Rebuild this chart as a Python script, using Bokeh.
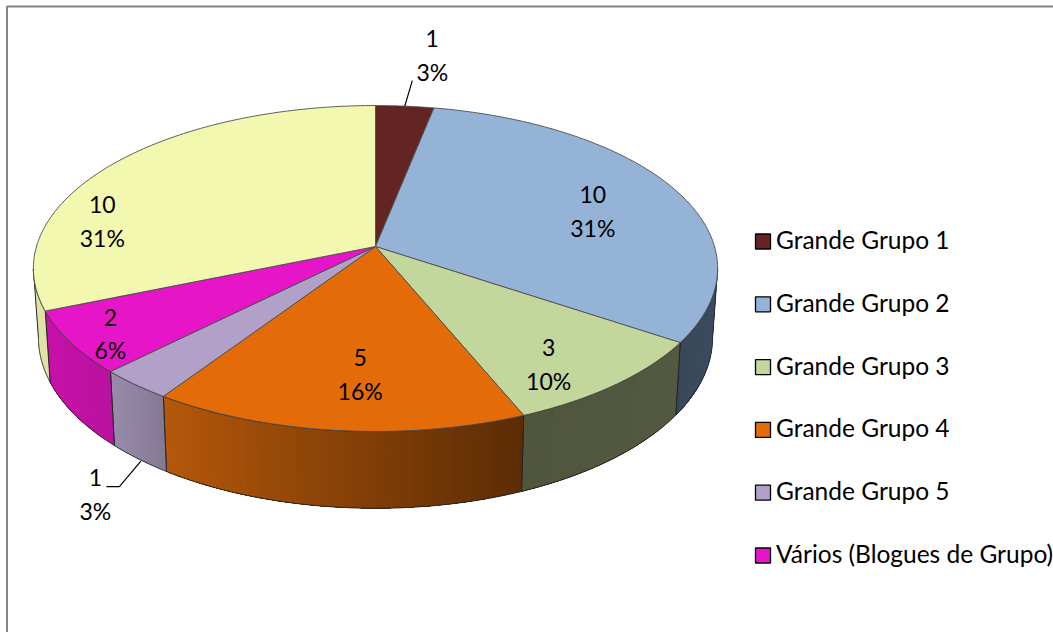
import numpy as np
from bokeh.plotting import figure
from bokeh.models import Range1d
from bokeh.embed import file_html
from bokeh.resources import INLINE
from bokeh.core.properties import value

# --- data ---
categories = ["Grande Grupo 1", "Grande Grupo 2", "Grande Grupo 3", "Grande Grupo 4",
              "Grande Grupo 5", "Vários (Blogues de Grupo)", ""]
values = [1, 10, 3, 5, 1, 2, 10]
percent_labels = ["3%", "31%", "10%", "16%", "3%", "6%", "31%"]

# --- styles ---
top_colors = ["#632423", "#95b3d7", "#c3d69b", "#e36c09", "#b1a0c7", "#e616c8", "#f3f8b0"]
wall_from = ["#4a1b1a", "#3e4d64", "#535a42", "#5c2c05", "#857a96", "#ba12a0", "#dfe3a6"]
wall_to = ["#4a1b1a", "#394859", "#50563c", "#b5580a", "#968ca9", "#ca0faa", "#dfe3a6"]
FONT = value("Lato")
FS = "23px"
LEGEND_FS = "24.5px"

# --- perspective geometry (in page pixels) ---
CX, CY = 375.0, 246.0
K = 0.135
TOP_A, TOP_B = 339.0, 160.0
BOT_A, BOT_B, BOT_CY = 334.0, 167.6, 314.0


def rim(theta, a, b, cy):
    u, v = np.sin(theta), np.cos(theta)
    d = 1 + K * v
    return CX + a * u / d, cy - b * v / d


def top(theta):
    return rim(theta, TOP_A, TOP_B, CY)


def bottom(theta):
    return rim(theta, BOT_A, BOT_B, BOT_CY)


def mix(c1, c2, t):
    a = [int(c1[i:i + 2], 16) for i in (1, 3, 5)]
    b = [int(c2[i:i + 2], 16) for i in (1, 3, 5)]
    return "#%02x%02x%02x" % tuple(int(round(x + (y - x) * t)) for x, y in zip(a, b))


edges = np.concatenate([[0], np.cumsum(values)]) / sum(values) * 2 * np.pi
mids = (edges[:-1] + edges[1:]) / 2

p = figure(width=1053, height=632, output_backend="svg", toolbar_location=None,
           x_range=Range1d(0, 1053), y_range=Range1d(632, 0), min_border=0)
p.axis.visible = False
p.grid.visible = False
p.outline_line_color = None
p.background_fill_color = "white"

# chart frame
p.line([1060, 6.5, 6.5], [6, 6, 640], line_color="#868686", line_width=2)

# walls
VIS_A = np.pi / 2 + np.arcsin(K)
VIS_B = 2 * np.pi - VIS_A
order = [1, 2, 3, 4, 5, 6]
for i in order:
    a, b = max(edges[i], VIS_A), min(edges[i + 1], VIS_B)
    if b <= a:
        continue
    n = max(2, int((b - a) / np.radians(1.0)))
    th = np.linspace(a, b, n + 1)
    xs, ys, cols = [], [], []
    for j in range(n):
        # every strip runs on to the wall's far end; the next one paints over it,
        # so no background shows through between strips
        t = np.linspace(th[j], b, max(3, (n - j) * 2))
        x1, y1 = top(t)
        x2, y2 = bottom(t[::-1])
        xs.append(list(x1) + list(x2))
        ys.append(list(y1) + list(y2))
        cols.append(mix(wall_from[i], wall_to[i], j / max(1, n - 1)))
    p.patches(xs, ys, fill_color=cols, line_color=None)
    t = np.linspace(a, b, 80)
    x1, y1 = top(t)
    x2, y2 = bottom(t[::-1])
    p.patch(list(x1) + list(x2), list(y1) + list(y2), fill_color=None,
            line_color="#262626", line_width=1)

# top face
for i in range(len(values)):
    t = np.linspace(edges[i], edges[i + 1], 120)
    x, y = top(t)
    p.patch([CX] + list(x), [CY] + list(y), fill_color=top_colors[i],
            line_color="#4d4d4d", line_width=0.9)

# data labels, tied to each slice's rim point
label_dx = [27.5, -80.5, -67, 23, -40, 39.6, -11]
label_dy = [-51, 23, -20.5, -56, 109.5, -9, 57.5]
lx, ly = top(mids)
lx = lx + np.array(label_dx)
ly = ly + np.array(label_dy)
LINE = 16.5
p.text(lx, ly - LINE, text=[str(v) for v in values], text_font=FONT, text_font_size=FS,
       text_align="center", text_baseline="middle", text_color="#000000")
p.text(lx, ly + LINE, text=percent_labels, text_font=FONT, text_font_size=FS,
       text_align="center", text_baseline="middle", text_color="#000000")

# leader lines
x0, y0 = top(mids[0])
p.line([x0, lx[0] - 20], [y0, ly[0] + 25.5], line_color="#000000", line_width=1.2)
x4, y4 = bottom(mids[4])
p.line([x4 + 2, lx[4] + 24, lx[4] + 11], [y4 + 2, ly[4] - 7.5, ly[4] - 7.5],
       line_color="#000000", line_width=1.2)

# legend
names = categories[:6]
ly0 = 241.0
step = 62.8
TEXT_LIFT = 2
lys = [ly0 + step * i for i in range(len(names))]
p.rect([762.5] * len(names), lys, width=15, height=15, fill_color=top_colors[:6],
       line_color="#000000", line_width=1.3)
p.text([775.5] * len(names), [y - TEXT_LIFT for y in lys], text=names, text_font=FONT,
       text_font_size=LEGEND_FS, text_align="left", text_baseline="middle",
       text_color="#000000")

open("out.html", "w").write(file_html(p, INLINE))
